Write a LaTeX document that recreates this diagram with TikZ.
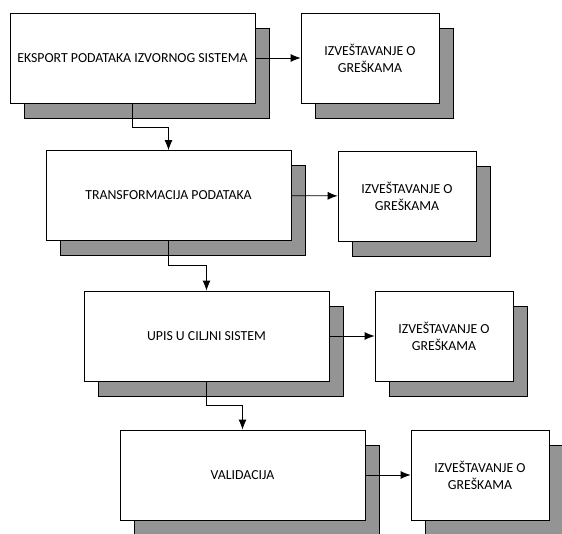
\documentclass[tikz,border=0pt]{standalone}
\usepackage{fontspec}
\setmainfont{Carlito}
\usetikzlibrary{arrows.meta,shadows}

\begin{document}
\begin{tikzpicture}[x=1pt,y=-1pt,->,>={Latex[length=10pt,width=8pt]},line width=0.8pt,
  stage box/.style={draw,fill=white,minimum width=245pt,minimum height=90pt,inner sep=2pt,
    font=\fontsize{13.8}{17}\selectfont,align=center,
    drop shadow={shadow xshift=14pt,shadow yshift=-15pt,fill=black!42,draw=black,opacity=1}},
  err box/.style={stage box,minimum width=138pt}]

  \useasboundingbox (0,0) rectangle (562,533);

  % glavni koraci
  \node[stage box] (ekspoort) at (132.5,58) {EKSPORT PODATAKA IZVORNOG SISTEMA};
  \node[stage box] (transf) at (168.5,195.5) {TRANSFORMACIJA PODATAKA};
  \node[stage box] (upis) at (206.5,336) {UPIS U CILJNI SISTEM};
  \node[stage box] (valid) at (242.5,475) {VALIDACIJA};

  % izvestavanje o greskama
  \node[err box] (greske1) at (370,58) {IZVEŠTAVANJE O\\GREŠKAMA};
  \node[err box] (greske2) at (407,196) {IZVEŠTAVANJE O\\GREŠKAMA};
  \node[err box] (greske3) at (444,336) {IZVEŠTAVANJE O\\GREŠKAMA};
  \node[err box] (greske4) at (480,475) {IZVEŠTAVANJE O\\GREŠKAMA};

  \draw (ekspoort) to (greske1);
  \draw (transf) to (greske2);
  \draw (upis) to (greske3);
  \draw (valid) to (greske4);

  \draw (ekspoort.south) -- ++(0,24) -| (transf.north);
  \draw (transf.south) -- ++(0,24) -| (upis.north);
  \draw (upis.south) -- ++(0,24) -| (valid.north);

\end{tikzpicture}
\end{document}
